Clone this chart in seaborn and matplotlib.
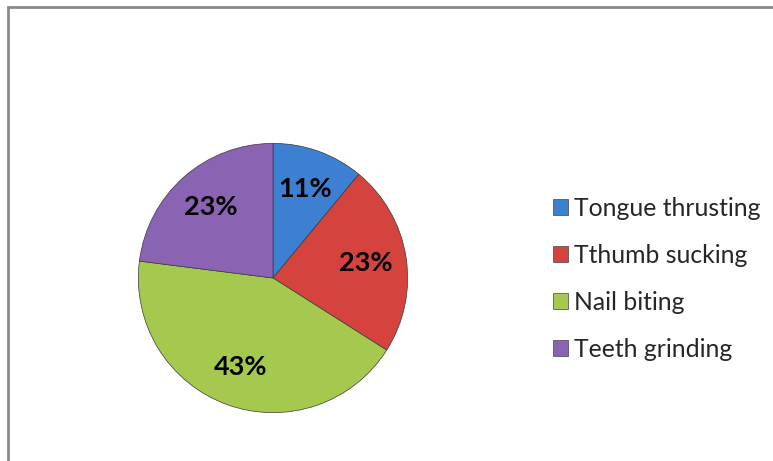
import matplotlib
matplotlib.use('Agg')
import matplotlib.pyplot as plt
import seaborn as sns
from matplotlib.patches import Rectangle, Patch

# habit categories and their shares (%)
habits = ['Tongue thrusting', 'Tthumb sucking', 'Nail biting', 'Teeth grinding']
shares = [11, 23, 43, 23]
colors = ['#3d7fd0', '#d4433d', '#a5c94f', '#8a63b3']

sns.set_theme(style='white')
plt.rcParams['font.family'] = ['Lato', 'DejaVu Sans']

W, H = 773, 461
fig = plt.figure(figsize=(W / 100, H / 100), dpi=100)

# grey frame (only top and left edges are visible)
fig.patches.append(Rectangle((8 / W, -0.05), 1.2, (H - 7) / H + 0.05,
                             transform=fig.transFigure, fill=False,
                             edgecolor='#8a8a8a', linewidth=2))

cx, cy, r = 273, H - 278, 136
ax = fig.add_axes([(cx - r) / W, (cy - r) / H, 2 * r / W, 2 * r / H])
wedges, texts, autotexts = ax.pie(
    shares, colors=colors, startangle=90, counterclock=False,
    autopct='%1.0f%%', pctdistance=0.7, radius=1,
    wedgeprops=dict(edgecolor='#3a3a3a', linewidth=0.5),
    textprops=dict(fontsize=19.5, fontweight='bold', color='black'))
ax.set_xlim(-1.01, 1.01)
ax.set_ylim(-1.01, 1.01)
ax.set_aspect('equal')
ax.axis('off')

handles = [Patch(facecolor=c, edgecolor='#444444', linewidth=0.5) for c in colors]
fig.legend(handles, habits, loc='center left',
           bbox_to_anchor=(531 / W, (H - 279) / H), frameon=False,
           fontsize=17.8, handlelength=0.6, handleheight=0.6,
           handletextpad=0.25, labelspacing=0.97)

fig.savefig('out.png', dpi=100)
